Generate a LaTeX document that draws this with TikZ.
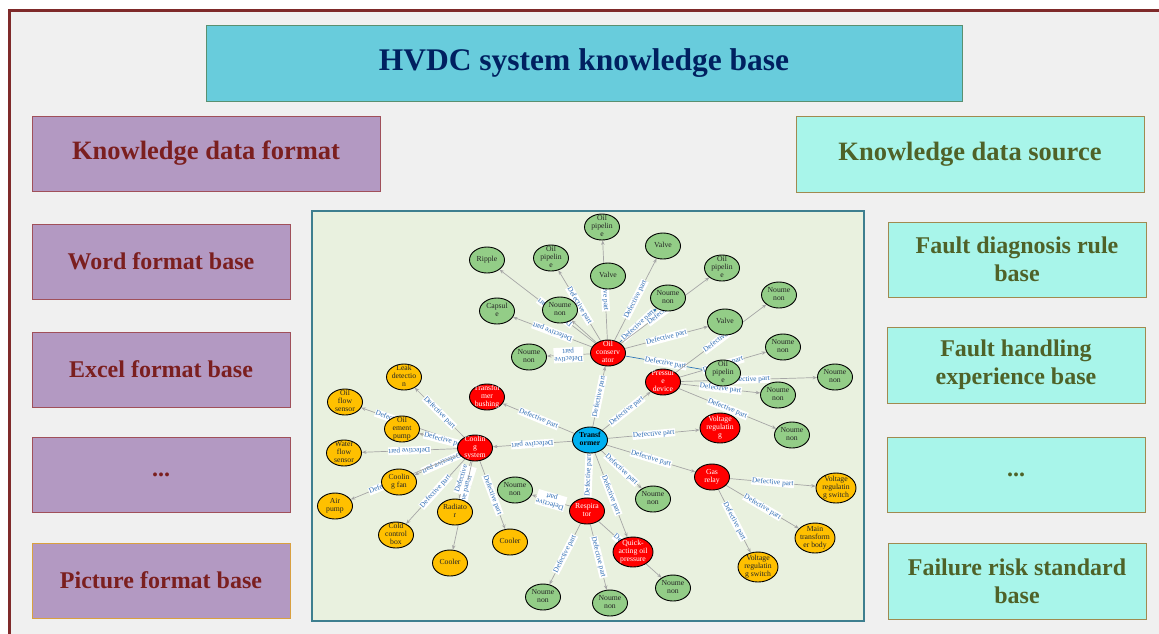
\documentclass[tikz,border=0pt]{standalone}
\usepackage{fontspec}
\setmainfont{Liberation Serif}
\usetikzlibrary{shapes.geometric,arrows.meta}
\pgfdeclarelayer{bg}
\pgfdeclarelayer{edges}
\pgfsetlayers{bg,edges,main}
\definecolor{framered}{HTML}{7F2A2A}
\definecolor{outerbg}{HTML}{F0F0F0}
\definecolor{titlefill}{HTML}{68CCDC}
\definecolor{titledraw}{HTML}{5A9070}
\definecolor{titletext}{HTML}{002060}
\definecolor{leftfill}{HTML}{B399C2}
\definecolor{leftdraw}{HTML}{A0505A}
\definecolor{lefttext}{HTML}{7B1F1F}
\definecolor{picdraw}{HTML}{D9A040}
\definecolor{rightfill}{HTML}{A8F5EA}
\definecolor{rightdraw}{HTML}{A08A50}
\definecolor{righttext}{HTML}{4F6228}
\definecolor{panelfill}{HTML}{E9F1DF}
\definecolor{paneldraw}{HTML}{3E7F8F}
\definecolor{ngreen}{HTML}{93CD87}
\definecolor{nred}{HTML}{FF0000}
\definecolor{norange}{HTML}{FFC000}
\definecolor{nblue}{HTML}{00B0F0}
\definecolor{edgegray}{HTML}{A6A6A6}
\definecolor{edgeblue}{HTML}{2E75B6}
\definecolor{labblue}{HTML}{2E6DB4}
\newcommand\nt[1]{\makebox[0pt]{\smash{\raisebox{-2pt}{\fontsize{7.7}{8.3}\selectfont\begin{tabular}{@{}c@{}}#1\end{tabular}}}}}
\begin{document}
\begin{tikzpicture}[x=1pt,y=-1pt,
  leftbox/.style={draw=leftdraw,line width=0.8pt,fill=leftfill,text=lefttext,font=\fontsize{24}{28}\selectfont\bfseries,align=center,inner sep=0pt},
  rightbox/.style={draw=rightdraw,line width=0.8pt,fill=rightfill,text=righttext,font=\fontsize{24}{28}\selectfont\bfseries,align=center,inner sep=0pt},
  gnode/.style={ellipse,draw=black,line width=0.9pt,fill=ngreen,minimum width=35,minimum height=26,inner sep=0pt,text=black!85},
  rnode/.style={gnode,fill=nred,text=white},
  onode/.style={gnode,fill=norange,text=black!85},
  bnode/.style={gnode,fill=nblue,text=black},
  big/.style={minimum width=40,minimum height=30},
  edge/.style={draw=edgegray,line width=0.7pt,-{Stealth[length=4.5pt,width=3.5pt]}},
  bedge/.style={edge,draw=edgeblue},
  lab/.style={midway,sloped,fill=white,inner sep=0.6pt,text=labblue,font=\fontsize{7.3}{7.4}\selectfont},
  flip/.style={allow upside down}
]
\useasboundingbox (0,0) rectangle (1159,633);
\begin{pgfonlayer}{bg}
\clip (0,0) rectangle (1159,633);
\fill[white] (0,0) rectangle (1159,633);
\draw[draw=framered,line width=2.5pt,fill=outerbg] (9.5,10.5) rectangle (1180,650);
\draw[draw=paneldraw,line width=1.2pt,fill=panelfill] (312,211) rectangle (864,621);
\end{pgfonlayer}

% header boxes
\node[draw=titledraw,line width=0.8pt,fill=titlefill,text=titletext,font=\fontsize{31.5}{36}\selectfont\bfseries,minimum width=756,minimum height=76,inner sep=0pt] (title) at (584,63) {HVDC system knowledge base};
\node[leftbox,font=\fontsize{26.5}{30}\selectfont\bfseries,minimum width=348,minimum height=75] (kdf) at (206,153.5) {Knowledge data format};
\node[leftbox,minimum width=258,minimum height=75] (word) at (161,261.5) {Word format base};
\node[leftbox,minimum width=258,minimum height=75] (excel) at (161,369.5) {Excel format base};
\node[leftbox,minimum width=258,minimum height=75] (ldots) at (161,474.5) {...};
\node[leftbox,draw=picdraw,minimum width=258,minimum height=75] (pic) at (161,580.5) {Picture format base};
\node[rightbox,font=\fontsize{26.5}{30}\selectfont\bfseries,minimum width=348,minimum height=76] (kds) at (970,154) {Knowledge data source};
\node[rightbox,minimum width=258,minimum height=75] (fdr) at (1017,259.5) {Fault diagnosis rule\\base};
\node[rightbox,minimum width=258,minimum height=76] (fhe) at (1016,365) {Fault handling\\experience base};
\node[rightbox,minimum width=258,minimum height=75] (rdots) at (1016,474.5) {...};
\node[rightbox,minimum width=258,minimum height=76] (frs) at (1017,581) {Failure risk standard\\base};

% graph nodes
\node[bnode] (T) at (590,440) {\nt{\textbf{Transf}\\\textbf{ormer}}};
\node[rnode] (OC) at (608,353) {\nt{Oil\\conserv\\ator}};
\node[rnode] (PD) at (663,382) {\nt{Pressur\\e\\device}};
\node[rnode] (TB) at (487,397) {\nt{Transfor\\mer\\bushing}};
\node[rnode] (CS) at (475,448) {\nt{Coolin\\g\\system}};
\node[rnode,big] (VR) at (720,428) {\nt{Voltage\\regulatin\\g}};
\node[rnode] (GR) at (712,477) {\nt{Gas\\relay}};
\node[rnode] (RS) at (587,511) {\nt{Respira\\tor}};
\node[rnode,big] (QA) at (633,552) {\nt{Quick-\\acting oil\\pressure}};

\node[gnode] (Rip) at (487,260) {\nt{Ripple}};
\node[gnode] (OP1) at (551,258) {\nt{Oil\\pipelin\\e}};
\node[gnode] (N1) at (560,310) {\nt{Noume\\non}};
\node[gnode] (Cap) at (497,311) {\nt{Capsul\\e}};
\node[gnode] (N2) at (529,357) {\nt{Noume\\non}};
\node[gnode] (OP0) at (602,227) {\nt{Oil\\pipelin\\e}};
\node[gnode] (V1) at (608,276) {\nt{Valve}};
\node[gnode] (V2) at (663,246) {\nt{Valve}};
\node[gnode] (N3) at (668,298) {\nt{Noume\\non}};
\node[gnode] (OP2) at (722,268) {\nt{Oil\\pipelin\\e}};
\node[gnode] (N4a) at (779,295) {\nt{Noume\\non}};
\node[gnode] (V3) at (725,322) {\nt{Valve}};
\node[gnode] (OP3) at (723,373) {\nt{Oil\\pipelin\\e}};
\node[gnode] (N4) at (783,347) {\nt{Noume\\non}};
\node[gnode] (N5) at (835,377) {\nt{Noume\\non}};
\node[gnode] (N6) at (778,395) {\nt{Noume\\non}};
\node[gnode] (N7) at (792,435) {\nt{Noume\\non}};
\node[gnode] (N9) at (653,499) {\nt{Noume\\non}};
\node[gnode] (N8) at (515,490) {\nt{Noume\\non}};
\node[gnode] (N10) at (543,597) {\nt{Noume\\non}};
\node[gnode] (N11) at (610,603) {\nt{Noume\\non}};
\node[gnode] (N12) at (673,588) {\nt{Noume\\non}};

\node[onode] (Leak) at (404,377) {\nt{Leak\\detectio\\n}};
\node[onode] (OFS) at (345,402) {\nt{Oil\\flow\\sensor}};
\node[onode] (Pump) at (402,429) {\nt{Oil\\ement\\pump}};
\node[onode] (WFS) at (344,453) {\nt{Water\\flow\\sensor}};
\node[onode] (Fan) at (399,482) {\nt{Coolin\\g fan}};
\node[onode] (Air) at (335,506) {\nt{Air\\pump}};
\node[onode] (Cold) at (396,535) {\nt{Cold\\control\\box}};
\node[onode] (Rad) at (455,512) {\nt{Radiato\\r}};
\node[onode] (C1) at (450,563) {\nt{Cooler}};
\node[onode] (C2) at (510,542) {\nt{Cooler}};
\node[onode,big] (VRS1) at (836,488) {\nt{Voltage\\regulatin\\g switch}};
\node[onode,big] (MTB) at (815,538) {\nt{Main\\transform\\er body}};
\node[onode,big] (VRS2) at (758,567) {\nt{Voltage\\regulatin\\g switch}};

\begin{pgfonlayer}{edges}
% transformer
\draw[edge] (T) -- node[lab]{Defective part} (OC);
\draw[edge] (T) -- node[lab]{Defective part} (PD);
\draw[edge] (T) -- node[lab]{Defective part} (TB);
\draw[edge] (T) -- node[lab,flip]{Defective part} (CS);
\draw[edge] (T) -- node[lab]{Defective part} (VR);
\draw[edge] (T) -- node[lab]{Defective part} (GR);
\draw[edge] (T) -- node[lab]{Defective part} (N9);
\draw[edge] (T) -- node[lab]{Defective part} (QA);
\draw[edge] (T) -- node[lab]{Defective part} (RS);
% oil conservator
\draw[edge] (OC) -- node[lab,flip,pos=0.42]{Defective part} (Rip);
\draw[edge] (OC) -- node[lab]{Defective part} (OP1);
\draw[edge] (OC) -- (N1);
\draw[edge] (OC) -- node[lab,flip]{Defective part} (Cap);
\draw[edge] (OC) -- node[lab,flip,align=center]{Defective\\part} (N2);
\draw[edge] (OC) -- node[lab]{Defective part} (OP0);
\draw[edge] (OC) -- node[lab]{Defective part} (V2);
\draw[bedge] (OC) -- node[lab]{Defective part} (N3);
\draw[edge] (OC) -- node[lab]{Defective part} (OP2);
\draw[edge] (OC) -- node[lab]{Defective part} (V3);
\draw[bedge] (OC) -- node[lab]{Defective part} (OP3);
% pressure device
\draw[edge] (PD) -- node[lab]{Defective part} (N4a);
\draw[edge] (PD) -- node[lab]{Defective part} (N4);
\draw[edge] (PD) -- node[lab]{Defective part} (N5);
\draw[edge] (PD) -- node[lab]{Defective part} (N6);
\draw[edge] (PD) -- node[lab]{Defective part} (N7);
% cooling system
\draw[edge] (CS) -- node[lab]{Defective part} (Leak);
\draw[edge] (CS) -- node[lab,pos=0.65]{Defective part} (OFS);
\draw[edge] (CS) -- node[lab,pos=0.35]{Defective part} (Pump);
\draw[edge] (CS) -- node[lab,flip]{Defective part} (WFS);
\draw[edge] (CS) -- node[lab,flip,pos=0.4]{Defective part} (Fan);
\draw[edge] (CS) -- node[lab,pos=0.65]{Defective part} (Air);
\draw[edge] (CS) -- node[lab]{Defective part} (Cold);
\draw[edge] (CS) -- node[lab,align=center]{Defective\\part} (Rad);
\draw[edge] (CS) -- node[lab,pos=0.45]{Defective part} (C1);
\draw[edge] (CS) -- node[lab]{Defective part} (C2);
% respirator
\draw[edge] (RS) -- node[lab,flip,align=center]{Defective\\part} (N8);
\draw[edge] (RS) -- node[lab]{Defective part} (N10);
\draw[edge] (RS) -- node[lab]{Defective part} (N11);
\draw[edge] (RS) -- node[lab]{Defective part} (N12);
% gas relay
\draw[edge] (GR) -- node[lab]{Defective part} (VRS1);
\draw[edge] (GR) -- node[lab]{Defective part} (MTB);
\draw[edge] (GR) -- node[lab]{Defective part} (VRS2);
\end{pgfonlayer}
\end{tikzpicture}
\end{document}
